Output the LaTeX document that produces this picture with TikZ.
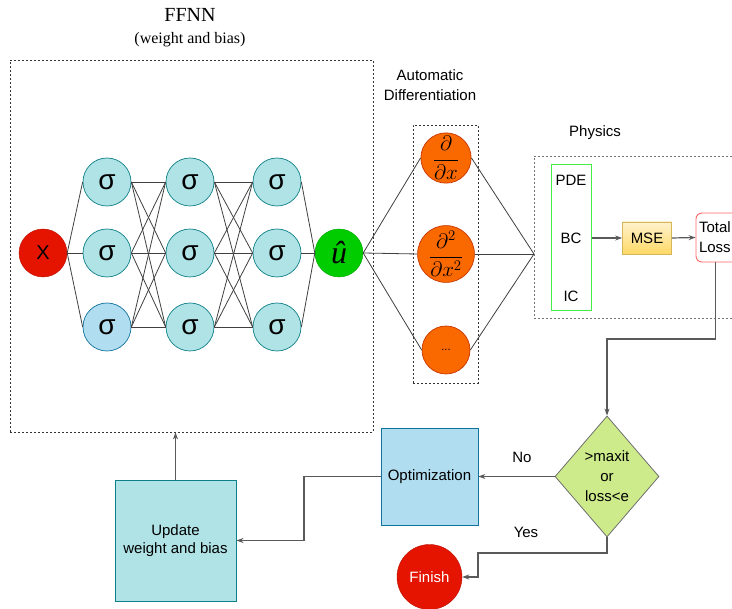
\RequirePackage{fix-cm}
\documentclass[tikz,border=0pt]{standalone}
\usepackage{fontspec}
\setmainfont{Liberation Sans}
\newfontfamily\timesfont{Liberation Serif}
\usetikzlibrary{arrows.meta,shapes.geometric,calc}
\definecolor{redf}{HTML}{E51400}
\definecolor{redd}{HTML}{B20000}
\definecolor{greenf}{HTML}{00CC00}
\definecolor{greend}{HTML}{2D7600}
\definecolor{cyanf}{HTML}{B0E3E6}
\definecolor{cyand}{HTML}{0E8088}
\definecolor{bluef}{HTML}{B1DDF0}
\definecolor{blued}{HTML}{10739E}
\definecolor{orangef}{HTML}{FA6800}
\definecolor{oranged}{HTML}{C73500}
\definecolor{msetop}{HTML}{FFF2CC}
\definecolor{msebot}{HTML}{FFD966}
\definecolor{msed}{HTML}{D6B656}
\definecolor{lossd}{HTML}{FF6666}
\definecolor{physd}{HTML}{44EE44}
\definecolor{diaf}{HTML}{CDEB8B}
\definecolor{diad}{HTML}{6E6E6E}
\definecolor{wire}{HTML}{404040}
\definecolor{conn}{HTML}{5A5A5A}
\tikzset{
  txt/.style={font=\fontsize{15}{20}\selectfont, align=center, inner sep=0pt},
  neuron/.style={circle, minimum size=48pt, inner sep=0pt, fill=cyanf, draw=cyand, line width=0.7pt, font=\fontsize{28}{28}\selectfont},
  neuronb/.style={neuron, fill=bluef, draw=blued},
  dnode/.style={circle, minimum size=48pt, inner sep=0pt, fill=orangef, draw=oranged, line width=0.7pt, font=\fontsize{21}{21}\selectfont},
  wireline/.style={draw=wire, line width=0.8pt},
  arr/.style={draw=conn, line width=1.2pt, -{Stealth[length=7pt,width=5pt,fill=black]}},
  dotbox/.style={draw=black!80, line width=0.8pt, dash pattern=on 2pt off 2pt},
}
\begin{document}
\begin{tikzpicture}[x=1pt,y=-1pt]
\useasboundingbox (0,0) rectangle (732,609);
\clip (0,0) rectangle (732,609);

% titles
\node[font=\timesfont\fontsize{20}{20}\selectfont, inner sep=0pt] (t1) at (190,15) {FFNN};
\node[font=\timesfont\fontsize{16}{16}\selectfont, inner sep=0pt] (t2) at (190,40) {(weight and bias)};
\node[txt] (ad) at (430,85) {Automatic\\Differentiation};
\node[txt] (ph) at (595,133) {Physics};

% boxes
\node[dotbox, minimum width=363pt, minimum height=372pt, inner sep=0pt] (ffnn) at (191.5,246) {};
\node[dotbox, minimum width=65pt, minimum height=258pt, inner sep=0pt] (adbox) at (445.5,254) {};
\node[draw=black!55, line width=0.8pt, dash pattern=on 2pt off 2pt, minimum width=206pt, minimum height=162pt, inner sep=0pt] (phbox) at (637,237) {};

% network
\node[circle, minimum size=48pt, inner sep=0pt, fill=redf, draw=redf!80!black, font=\fontsize{20}{20}\selectfont] (x) at (43,253) {X};
\node[neuron] (a1) at (107,182) {σ};
\node[neuron] (a2) at (107,253) {σ};
\node[neuronb] (a3) at (107,327) {σ};
\node[neuron] (b1) at (190,182) {σ};
\node[neuron] (b2) at (190,253) {σ};
\node[neuron] (b3) at (190,327) {σ};
\node[neuron] (c1) at (277,182) {σ};
\node[neuron] (c2) at (277,253) {σ};
\node[neuron] (c3) at (277,327) {σ};
\node[circle, minimum size=48pt, inner sep=0pt, fill=greenf, draw=greenf!80!black, font=\timesfont\itshape\fontsize{32}{32}\selectfont] (u) at (339,253) {û};

\foreach \i in {1,2,3}{
  \draw[wireline] (x.east) -- (a\i.west);
  \draw[wireline] (c\i.east) -- (u.west);
  \foreach \j in {1,2,3}{
    \draw[wireline] (a\i.east) -- (b\j.west);
    \draw[wireline] (b\i.east) -- (c\j.west);
  }
}

% automatic differentiation
\node[dnode] (d1) at (446,158) {$\displaystyle\frac{\partial}{\partial x}$};
\node[dnode] (d2) at (446,254) {$\displaystyle\frac{\partial^2}{\partial x^2}$};
\node[dnode, font=\fontsize{11}{11}\selectfont] (d3) at (446,350) {...};
\coordinate (pin) at (534,254);
\foreach \k in {1,2,3}{
  \draw[wireline] (u.east) -- (d\k.west);
  \draw[wireline] (d\k.east) -- (pin);
}

% physics
\node[draw=physd, line width=1pt, minimum width=40pt, minimum height=146pt, inner sep=0pt] (gb) at (571,238) {};
\node[txt] (pde) at (571,180) {PDE};
\node[txt] (bc) at (571,238) {BC};
\node[txt] (ic) at (571,296) {IC};
\node[draw=msed, top color=msetop, bottom color=msebot, line width=0.7pt, minimum width=49pt, minimum height=32pt, inner sep=0pt, font=\fontsize{15}{20}\selectfont] (mse) at (647,238) {MSE};
\node[draw=lossd, fill=white, rounded corners=6pt, line width=0.9pt, minimum height=49pt, text width=43pt, inner sep=3pt, align=left, font=\fontsize{15}{20}\selectfont] (tl) at (720.5,237.5) {Total\\Loss};
\draw[arr] (gb.east) -- (mse.west);
\draw[arr] (mse.east) -- (tl.west);

% decision loop
\node[diamond, shape aspect=0.86, minimum width=104pt, minimum height=121pt, inner sep=0pt, fill=diaf, draw=diad, line width=0.8pt, align=center, font=\fontsize{15}{20}\selectfont] (dm) at (607,476.5) {>maxit\\or\\loss<e};
\node[fill=bluef, draw=blued, line width=0.7pt, minimum width=97pt, minimum height=97pt, inner sep=0pt, font=\fontsize{15}{20}\selectfont] (opt) at (429.5,476.5) {Optimization};
\node[fill=cyanf, draw=cyand, line width=0.9pt, minimum width=121pt, minimum height=121pt, inner sep=0pt, align=center, font=\fontsize{15}{18}\selectfont] (upd) at (175.5,540.5) {Update\\weight and bias};
\node[circle, minimum size=65pt, inner sep=0pt, fill=redf, draw=redf!80!black, text=white, font=\fontsize{15}{20}\selectfont] (fin) at (429.5,577) {Finish};

\node[txt] (no) at (522,457) {No};
\node[txt] (yes) at (526,532) {Yes};

\draw[arr] ($(tl.south west)+(20,0)$) |- (607,339) -- (dm.north);
\draw[arr] (dm.west) -- (opt.east);
\draw[arr] (dm.south) |- (478,553) |- (fin.east);
\draw[arr] (opt.west) -- (304,476.5) |- (upd.east);
\draw[arr] (upd.north) -- (upd.north |- ffnn.south);
\end{tikzpicture}
\end{document}
